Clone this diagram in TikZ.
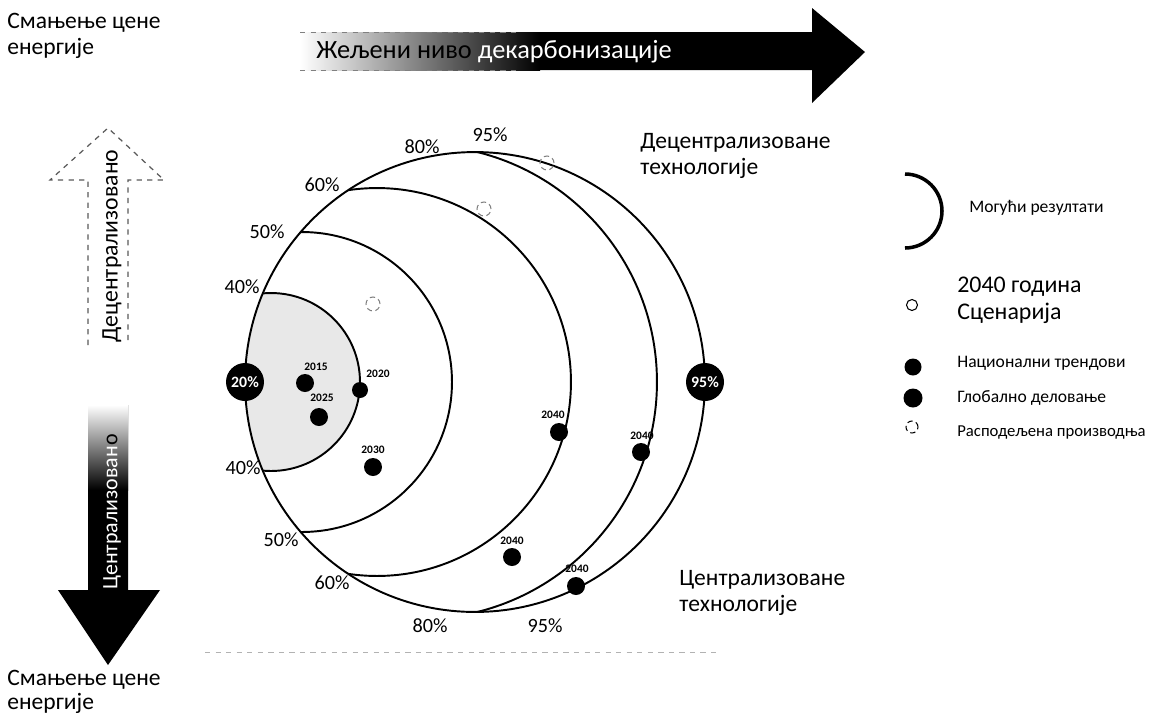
\documentclass[tikz,border=0pt]{standalone}
\usepackage{fontspec}
\setmainfont{Carlito}
\begin{document}
\begin{tikzpicture}[x=0.02cm,y=-0.02cm,
  lbl/.style={inner sep=0pt, font=\fontsize{13.4}{15}\selectfont, align=left},
  pct/.style={inner sep=0pt, font=\fontsize{11.5}{13}\selectfont},
  yr/.style={inner sep=0pt, font=\bfseries\fontsize{6.5}{7}\selectfont},
  dot/.style={circle, fill=black, minimum size=0.36cm, inner sep=0pt},
  ddot/.style={circle, draw=gray, densely dashed, line width=0.6pt, minimum size=0.28cm, inner sep=0pt},
  badge/.style={circle, fill=black, minimum size=0.76cm, inner sep=0pt, text=white, font=\bfseries\fontsize{9}{10}\selectfont},
  arcline/.style={line width=1.1pt},
  leg/.style={inner sep=0pt, anchor=west, font=\fontsize{10}{12}\selectfont}
]
\useasboundingbox (0,0) rectangle (1150,718);

% corner labels
\node[lbl, anchor=north west] (tl) at (7,13) {Смањење цене\\енергије};
\node[lbl, anchor=north west, font=\fontsize{13.4}{13.5}\selectfont] (bl) at (7,670) {Смањење цене\\енергије};

% top arrow
\fill[black] (300,32) -- (812,32) -- (812,8) -- (865,52) -- (812,103) -- (812,70) -- (300,70) -- cycle;
\shade[left color=white, middle color=gray!30, right color=black] (300,32) rectangle (540,70);
\draw[gray, dashed, line width=0.5pt] (300,32) -- (520,32) (300,70) -- (520,70);
\begin{scope}
\clip (290,0) rectangle (478,110);
\node[inner sep=0pt, anchor=west, font=\fontsize{15}{17}\selectfont] (ta) at (316,52) {Жељени ниво декарбонизације};
\end{scope}
\begin{scope}
\clip (478,0) rectangle (880,110);
\node[inner sep=0pt, anchor=west, text=white, font=\fontsize{15}{17}\selectfont] (tb) at (316,52) {Жељени ниво декарбонизације};
\end{scope}

% up arrow (dashed outline)
\draw[gray!70!black, dashed, line width=0.7pt] (88,345) -- (88,180) -- (50,180) -- (108,128) -- (164,180) -- (128,180) -- (128,345);
\node[inner sep=0pt, rotate=90, font=\fontsize{13.5}{15}\selectfont] (dec) at (112,246) {Децентрализовано};

% down arrow
\fill[black] (88,405) -- (128,405) -- (128,590) -- (160,590) -- (108,665) -- (58,590) -- (88,590) -- cycle;
\shade[top color=white, bottom color=black] (88,405) rectangle (128,490);
\begin{scope}
\clip (80,400) rectangle (140,445);
\node[inner sep=0pt, rotate=90, font=\fontsize{12.5}{14}\selectfont] (cena) at (112,512) {Централизовано};
\end{scope}
\begin{scope}
\clip (80,445) rectangle (140,600);
\node[inner sep=0pt, rotate=90, text=white, font=\fontsize{12.5}{14}\selectfont] (cenb) at (112,512) {Централизовано};
\end{scope}

% circle diagram
\begin{scope}
\clip (475,382) circle[radius=4.6cm];
\fill[gray!18] (271,382) circle[radius=1.78cm];
\draw[arcline] (271,382) circle[radius=1.78cm];
\draw[arcline] (302,382) circle[radius=3.0cm];
\draw[arcline] (377,382) circle[radius=3.88cm];
\draw[arcline] (420,382) circle[radius=4.74cm];
\end{scope}
\draw[arcline] (475,382) circle[radius=4.6cm];

% bottom faint dashed line
\draw[gray!60, dashed, line width=0.5pt] (205,652) -- (720,652);

% percent labels
\node[pct] (p80t) at (422,147) {80\%};
\node[pct] (p95t) at (490,135) {95\%};
\node[pct] (p60t) at (322,185) {60\%};
\node[pct] (p50t) at (267,232) {50\%};
\node[pct] (p40t) at (242,287) {40\%};
\node[pct] (p40b) at (243,468) {40\%};
\node[pct] (p50b) at (281,540) {50\%};
\node[pct] (p60b) at (332,583) {60\%};
\node[pct] (p80b) at (430,626) {80\%};
\node[pct] (p95b) at (545,626) {95\%};

% badges
\node[badge] (b20) at (245,382) {20\%};
\node[badge] (b95) at (705,382) {95\%};

% dots
\node[dot] (d2015) at (305,383) {};
\node[dot, minimum size=0.32cm] (d2020) at (360,390) {};
\node[dot] (d2025) at (319,417) {};
\node[dot] (d2030) at (373,467) {};
\node[dot] (d40a) at (559,432) {};
\node[dot] (d40b) at (641,452) {};
\node[dot] (d40c) at (512,557) {};
\node[dot] (d40d) at (576,586) {};
\node[yr] (y2015) at (316,367) {2015};
\node[yr] (y2020) at (378,374) {2020};
\node[yr] (y2025) at (322,398) {2025};
\node[yr] (y2030) at (373,450) {2030};
\node[yr] (y40a) at (553,415) {2040};
\node[yr] (y40b) at (642,436) {2040};
\node[yr] (y40c) at (512,541) {2040};
\node[yr] (y40d) at (577,569) {2040};

% distributed (dashed) markers
\node[ddot] (s1) at (547,163) {};
\node[ddot] (s2) at (484,209) {};
\node[ddot] (s3) at (373,304) {};

% region labels
\node[lbl, anchor=north west] (dect) at (640,133) {Децентрализоване\\технологије};
\node[lbl, anchor=north west] (cent) at (679,570) {Централизоване\\технологије};

% legend
\draw[line width=2pt] (905,174) .. controls (925.4,174) and (942,190.6) .. (942,211) .. controls (942,231.4) and (925.4,248) .. (905,248);
\node[leg] (lg1) at (969,208) {Могући резултати};
\node[circle, draw=black, line width=0.6pt, minimum size=0.22cm, inner sep=0pt] (lc2) at (912,305) {};
\node[inner sep=0pt, anchor=west, align=left, font=\fontsize{13.6}{15.5}\selectfont] (lg2) at (957,300) {2040 година\\Сценарија};
\node[dot, minimum size=0.34cm] (lc3) at (913,367) {};
\node[leg] (lg3) at (957,363) {Национални трендови};
\node[dot, minimum size=0.38cm] (lc4) at (913,398) {};
\node[leg] (lg4) at (957,398) {Глобално деловање};
\node[ddot, draw=black, minimum size=0.24cm] (lc5) at (912,427) {};
\node[leg, font=\fontsize{9.5}{11}\selectfont] (lg5) at (957,433) {Расподељена производња};
\end{tikzpicture}
\end{document}
